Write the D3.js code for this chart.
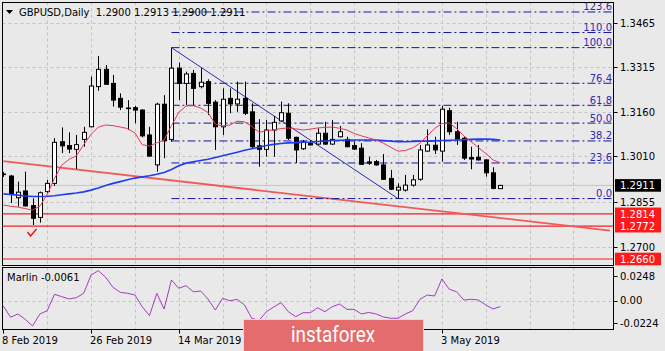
<!DOCTYPE html>
<html>
<head>
<meta charset="utf-8">
<script src="https://cdn.jsdelivr.net/npm/d3@7"></script>
<style>
  html, body { margin: 0; padding: 0; background: #e9e9e9; }
  svg { display: block; font-family: "DejaVu Sans", sans-serif; }
</style>
</head>
<body>
<div id="chart"></div>
<script>
// GBPUSD daily, 8 Feb 2019 .. 15 May 2019 (one value per bar)
const opens = [1.2950,1.2943,1.2869,1.2892,1.2842,1.2802,1.2890,1.2918,1.3060,1.3047,1.3034,1.3068,1.3111,1.3248,1.3307,1.3259,1.3208,1.3175,1.3176,1.3168,1.3083,1.2981,1.3188,1.3068,1.3311,1.3259,1.3293,1.3248,1.3265,1.3195,1.3111,1.3208,1.3189,1.3208,1.3162,1.3046,1.3034,1.3100,1.3131,1.3157,1.3075,1.3036,1.3055,1.3052,1.3089,1.3052,1.3077,1.3068,1.3047,1.3038,1.2991,1.2992,1.2981,1.2935,1.2895,1.2895,1.2912,1.2932,1.3028,1.3048,1.3028,1.3166,1.3094,1.3072,1.3006,1.3007,1.2998,1.2954,1.2900];
const highs = [1.2957,1.2947,1.2924,1.2958,1.2867,1.2890,1.2930,1.3072,1.3109,1.3092,1.3083,1.3111,1.3282,1.3352,1.3322,1.3288,1.3225,1.3202,1.3182,1.3171,1.3111,1.3193,1.3219,1.3381,1.3330,1.3299,1.3305,1.3311,1.3273,1.3202,1.3242,1.3242,1.3265,1.3265,1.3191,1.3137,1.3134,1.3148,1.3197,1.3191,1.3077,1.3066,1.3066,1.3106,1.3128,1.3134,1.3114,1.3077,1.3060,1.3055,1.3009,1.2998,1.3018,1.2964,1.2918,1.2947,1.2947,1.3049,1.3102,1.3077,1.3182,1.3176,1.3128,1.3077,1.3043,1.3049,1.3000,1.2973,1.2913];
const lows = [1.2940,1.2851,1.2839,1.2839,1.2776,1.2784,1.2884,1.2909,1.3021,1.3021,1.2967,1.3043,1.3109,1.3234,1.3254,1.3180,1.3168,1.3100,1.3123,1.3075,1.3009,1.2958,1.3004,1.3060,1.3202,1.3185,1.3185,1.3242,1.3151,1.3032,1.3083,1.3157,1.3162,1.3151,1.3038,1.2975,1.3009,1.3009,1.3128,1.3066,1.2987,1.3032,1.3048,1.3049,1.3049,1.3049,1.3075,1.3041,1.3032,1.2981,1.2981,1.2978,1.2930,1.2895,1.2866,1.2890,1.2907,1.2927,1.3026,1.3018,1.2992,1.3083,1.3049,1.2998,1.2966,1.2995,1.2941,1.2898,1.2900];
const closes = [1.2948,1.2882,1.2888,1.2841,1.2799,1.2886,1.2918,1.3058,1.3046,1.3035,1.3050,1.3092,1.3250,1.3307,1.3256,1.3202,1.3178,1.3173,1.3168,1.3080,1.3011,1.3188,1.3063,1.3311,1.3259,1.3291,1.3242,1.3263,1.3191,1.3111,1.3205,1.3189,1.3205,1.3157,1.3043,1.3034,1.3100,1.3126,1.3159,1.3072,1.3032,1.3059,1.3049,1.3089,1.3052,1.3068,1.3094,1.3043,1.3035,1.2983,1.2987,1.2981,1.2932,1.2898,1.2905,1.2912,1.2930,1.3032,1.3049,1.3032,1.3171,1.3094,1.3069,1.3004,1.3001,1.2998,1.2954,1.2901,1.2911];
const redMA = [1.2844,1.2840,1.2837,1.2832,1.2827,1.2840,1.2880,1.2935,1.2980,1.3000,1.3012,1.3050,1.3085,1.3110,1.3117,1.3115,1.3110,1.3105,1.3090,1.3050,1.3045,1.3056,1.3066,1.3115,1.3160,1.3182,1.3183,1.3175,1.3160,1.3120,1.3114,1.3117,1.3130,1.3128,1.3112,1.3092,1.3098,1.3100,1.3105,1.3107,1.3104,1.3100,1.3103,1.3107,1.3109,1.3110,1.3106,1.3100,1.3088,1.3080,1.3073,1.3066,1.3055,1.3041,1.3028,1.3030,1.3039,1.3055,1.3080,1.3105,1.3122,1.3124,1.3105,1.3080,1.3060,1.3040,1.3020,1.2998,1.2988];
const blueMA = [1.2882,1.2880,1.2878,1.2875,1.2873,1.2873,1.2874,1.2876,1.2879,1.2882,1.2885,1.2889,1.2895,1.2902,1.2911,1.2918,1.2924,1.2930,1.2936,1.2940,1.2944,1.2949,1.2955,1.2965,1.2978,1.2987,1.2992,1.2996,1.3000,1.3006,1.3012,1.3018,1.3024,1.3031,1.3036,1.3041,1.3047,1.3051,1.3054,1.3056,1.3057,1.3058,1.3059,1.3061,1.3062,1.3064,1.3065,1.3066,1.3066,1.3066,1.3066,1.3066,1.3064,1.3062,1.3060,1.3060,1.3061,1.3062,1.3062,1.3063,1.3064,1.3065,1.3066,1.3067,1.3068,1.3069,1.3069,1.3068,1.3066];
const marlin = [-0.0055,-0.0169,-0.0136,-0.0190,-0.0257,-0.0136,-0.0103,0.0063,0.0039,0.0016,0.0029,0.0073,0.0258,0.0302,0.0235,0.0134,0.0083,0.0073,0.0056,-0.0062,-0.0153,0.0073,-0.0086,0.0208,0.0124,0.0150,0.0089,0.0096,0.0016,-0.0096,0.0022,-0.0002,0.0012,-0.0045,-0.0180,-0.0200,-0.0113,-0.0065,-0.0021,-0.0113,-0.0164,-0.0123,-0.0123,-0.0073,-0.0113,-0.0062,-0.0035,-0.0089,-0.0089,-0.0136,-0.0120,-0.0136,-0.0166,-0.0179,-0.0179,-0.0136,-0.0103,0.0013,0.0056,0.0046,0.0218,0.0114,0.0089,0.0005,0.0013,0.0005,-0.0045,-0.0085,-0.0061];

const priceTicks = [1.3465, 1.3315, 1.3160, 1.3010, 1.2855, 1.2700];
const marlinTicks = [0.0248, 0, -0.0224];
// labels under the watermark (1 Apr, 17 Apr) are not visible, only these show
const dateTickBars = [0, 12, 24, 60];
const dateTickLabels = ["8 Feb 2019", "26 Feb 2019", "14 Mar 2019", "3 May 2019"];
const levels = [1.2814, 1.2772, 1.2660];
const fibLevels = [0, 23.6, 38.2, 50.0, 61.8, 76.4, 100.0, 110.0, 123.6];
const fibHigh = { bar: 23, price: 1.3381 };
const fibLow = { bar: 54, price: 1.2866 };
const redTrend = [[0, 1.2994], [83, 1.2757]];
const lastPrice = 1.2911;
const header = "GBPUSD,Daily  1.2900 1.2913 1.2900 1.2911";

const W = 665, H = 351;
const left = 2.5, right = 613.5, mainTop = 2.5, mainBottom = 265.5, subTop = 267.5, subBottom = 329.5;

const svg = d3.select("#chart").append("svg")
    .attr("width", W).attr("height", H)
    .style("background-color", "#e9e9e9");

const x = d3.scaleLinear().domain([0, 83]).range([3.3, 3.3 + 83 * 7.31]);
const y = d3.scaleLinear().domain([1.2660, 1.3465]).range([259, 23]);
const ym = d3.scaleLinear().domain([-0.0224, 0.0248]).range([322.7, 276]);

const defs = svg.append("defs");
defs.append("clipPath").attr("id", "clipMain").append("rect")
    .attr("x", left).attr("y", mainTop).attr("width", right - left).attr("height", mainBottom - mainTop);
defs.append("clipPath").attr("id", "clipSub").append("rect")
    .attr("x", left).attr("y", subTop).attr("width", right - left).attr("height", subBottom - subTop);

const gridColor = "#c2c2c2";
const main = svg.append("g").attr("clip-path", "url(#clipMain)");
const sub = svg.append("g").attr("clip-path", "url(#clipSub)");

// vertical grid every 6 bars
const vGrid = d3.range(6, 84, 6);
[[main, mainTop, mainBottom], [sub, subTop, subBottom]].forEach(function (p) {
    p[0].selectAll(".vg").data(vGrid).enter().append("line")
        .attr("x1", function (d) { return Math.round(x(d)) + 0.5; })
        .attr("x2", function (d) { return Math.round(x(d)) + 0.5; })
        .attr("y1", p[1]).attr("y2", p[2])
        .attr("stroke", gridColor).attr("stroke-dasharray", "3,3");
});
main.selectAll(".hg").data(priceTicks).enter().append("line")
    .attr("x1", left).attr("x2", right)
    .attr("y1", function (d) { return Math.round(y(d)) + 0.5; })
    .attr("y2", function (d) { return Math.round(y(d)) + 0.5; })
    .attr("stroke", gridColor).attr("stroke-dasharray", "3,3");
sub.append("line")
    .attr("x1", left).attr("x2", right)
    .attr("y1", Math.round(ym(0)) + 0.5).attr("y2", Math.round(ym(0)) + 0.5)
    .attr("stroke", gridColor).attr("stroke-dasharray", "3,3");

// bid line
main.append("line").attr("x1", left).attr("x2", right)
    .attr("y1", y(lastPrice)).attr("y2", y(lastPrice))
    .attr("stroke", "#c4c4c4").attr("stroke-width", 1);

// horizontal levels
main.selectAll(".lvl").data(levels).enter().append("line")
    .attr("x1", left).attr("x2", right)
    .attr("y1", function (d) { return y(d); }).attr("y2", function (d) { return y(d); })
    .attr("stroke", "#f02020").attr("stroke-width", 1.2);

// red trend line
main.append("line")
    .attr("x1", x(redTrend[0][0])).attr("y1", y(redTrend[0][1]))
    .attr("x2", x(redTrend[1][0])).attr("y2", y(redTrend[1][1]))
    .attr("stroke", "#f25a5a").attr("stroke-width", 1.8);

// fibonacci
const fibPrice = function (lv) { return fibLow.price + (fibHigh.price - fibLow.price) * lv / 100; };
main.selectAll(".fib").data(fibLevels).enter().append("line")
    .attr("x1", x(fibHigh.bar)).attr("x2", right - 1)
    .attr("y1", function (d) { return y(fibPrice(d)); })
    .attr("y2", function (d) { return y(fibPrice(d)); })
    .attr("stroke", "#1515a0").attr("stroke-width", 1)
    .attr("stroke-dasharray", "8,3,2,3");
main.selectAll(".fibt").data(fibLevels).enter().append("text")
    .attr("x", right - 1.5)
    .attr("y", function (d) { return y(fibPrice(d)) - 1.5; })
    .attr("text-anchor", "end")
    .attr("font-size", "10px")
    .attr("fill", "#2b2bb5")
    .text(function (d) { return d.toFixed(1); });

// blue trend line from high to low
main.append("line")
    .attr("x1", x(fibHigh.bar)).attr("y1", y(fibHigh.price))
    .attr("x2", x(fibLow.bar)).attr("y2", y(fibLow.price))
    .attr("stroke", "#2b2ba8").attr("stroke-width", 1);

// candles
const bars = d3.range(opens.length);
const cg = main.append("g");
cg.selectAll(".wick").data(bars).enter().append("line")
    .attr("x1", function (i) { return Math.round(x(i)) + 0.5; })
    .attr("x2", function (i) { return Math.round(x(i)) + 0.5; })
    .attr("y1", function (i) { return y(highs[i]); })
    .attr("y2", function (i) { return y(lows[i]); })
    .attr("stroke", "#000");
cg.selectAll(".body").data(bars).enter().append("rect")
    .attr("x", function (i) { return Math.round(x(i)) - 1.5; })
    .attr("y", function (i) { return y(Math.max(opens[i], closes[i])); })
    .attr("width", 4)
    .attr("height", function (i) { return Math.max(0.6, Math.abs(y(opens[i]) - y(closes[i]))); })
    .attr("fill", function (i) { return closes[i] >= opens[i] ? "#fff" : "#000"; })
    .attr("stroke", "#000");

// moving averages
const line = function (ys, vals) {
    return d3.line().x(function (d, i) { return x(i); }).y(function (d) { return ys(d); })(vals);
};
main.append("path").attr("d", line(y, blueMA))
    .attr("fill", "none").attr("stroke", "#1e3cf0").attr("stroke-width", 1.6);
main.append("path").attr("d", line(y, redMA))
    .attr("fill", "none").attr("stroke", "#e8375a").attr("stroke-width", 1);

// check mark object below the low of bar 4
const ckx = x(4), cky = y(lows[4]) + 8;
main.append("path")
    .attr("d", "M" + (ckx - 5) + "," + (cky - 1) + " L" + (ckx - 2) + "," + (cky + 3) + " L" + (ckx + 4) + "," + (cky - 4))
    .attr("fill", "none").attr("stroke", "#f01818").attr("stroke-width", 1.5);

// marlin oscillator
sub.append("path").attr("d", line(ym, marlin))
    .attr("fill", "none").attr("stroke", "#a43cc0").attr("stroke-width", 1);

// panel frames
[[mainTop, mainBottom], [subTop, subBottom]].forEach(function (p) {
    svg.append("rect").attr("x", left).attr("y", p[0])
        .attr("width", right - left).attr("height", p[1] - p[0])
        .attr("fill", "none").attr("stroke", "#000");
});

// price axis
const ax = svg.append("g");
ax.selectAll(".pt").data(priceTicks).enter().append("line")
    .attr("x1", right).attr("x2", right + 4)
    .attr("y1", function (d) { return Math.round(y(d)) + 0.5; })
    .attr("y2", function (d) { return Math.round(y(d)) + 0.5; })
    .attr("stroke", "#000");
ax.selectAll(".ptl").data(priceTicks).enter().append("text")
    .attr("x", 620).attr("y", function (d) { return y(d) + 3.8; })
    .attr("font-size", "10px").attr("fill", "#000")
    .text(function (d) { return d.toFixed(4); });
ax.selectAll(".mt").data(marlinTicks).enter().append("line")
    .attr("x1", right).attr("x2", right + 4)
    .attr("y1", function (d) { return Math.round(ym(d)) + 0.5; })
    .attr("y2", function (d) { return Math.round(ym(d)) + 0.5; })
    .attr("stroke", "#000");
ax.selectAll(".mtl").data(marlinTicks).enter().append("text")
    .attr("x", 620).attr("y", function (d) { return ym(d) + 3.8; })
    .attr("font-size", "10px").attr("fill", "#000")
    .text(function (d) { return d === 0 ? "0.00" : d.toFixed(4); });

// level boxes
const boxes = [{ v: lastPrice, c: "#000" }].concat(levels.map(function (v) { return { v: v, c: "#ff1a1a" }; }));
boxes.forEach(function (b) {
    ax.append("rect").attr("x", 615).attr("y", y(b.v) - 6.3)
        .attr("width", 46).attr("height", 12.6).attr("fill", b.c);
    ax.append("text").attr("x", 620).attr("y", y(b.v) + 3.8)
        .attr("font-size", "10px").attr("fill", "#fff")
        .text(b.v.toFixed(4));
});

// date axis
ax.selectAll(".dt").data(dateTickBars).enter().append("line")
    .attr("x1", function (d) { return Math.round(x(d)) + 0.5; })
    .attr("x2", function (d) { return Math.round(x(d)) + 0.5; })
    .attr("y1", subBottom).attr("y2", subBottom + 4)
    .attr("stroke", "#000");
ax.selectAll(".dtl").data(dateTickBars).enter().append("text")
    .attr("x", function (d) { return Math.round(x(d)) - 1; })
    .attr("y", 344)
    .attr("font-size", "10px").attr("fill", "#000")
    .text(function (d, i) { return dateTickLabels[i]; });

// header and indicator label
svg.append("path").attr("d", "M6,10 L13,10 L9.5,14 Z").attr("fill", "#000");
svg.append("text").attr("x", 19).attr("y", 16).attr("font-size", "10px")
    .attr("fill", "#000").attr("xml:space", "preserve").style("white-space", "pre").text(header);
svg.append("text").attr("x", 7).attr("y", 281).attr("font-size", "10px")
    .attr("fill", "#000").text("Marlin " + marlin[marlin.length - 1].toFixed(4));

// watermark
svg.append("rect").attr("x", 243.5).attr("y", 319.5).attr("width", 180).attr("height", 34)
    .attr("fill", "#e46c6c").attr("stroke", "#f6d2d2");
svg.append("text").attr("x", 333).attr("y", 342).attr("text-anchor", "middle")
    .attr("font-family", "Roboto, sans-serif").attr("font-size", "22px").attr("fill", "#fff")
    .attr("textLength", 84).attr("lengthAdjust", "spacingAndGlyphs")
    .text("instaforex");
</script>
</body>
</html>
